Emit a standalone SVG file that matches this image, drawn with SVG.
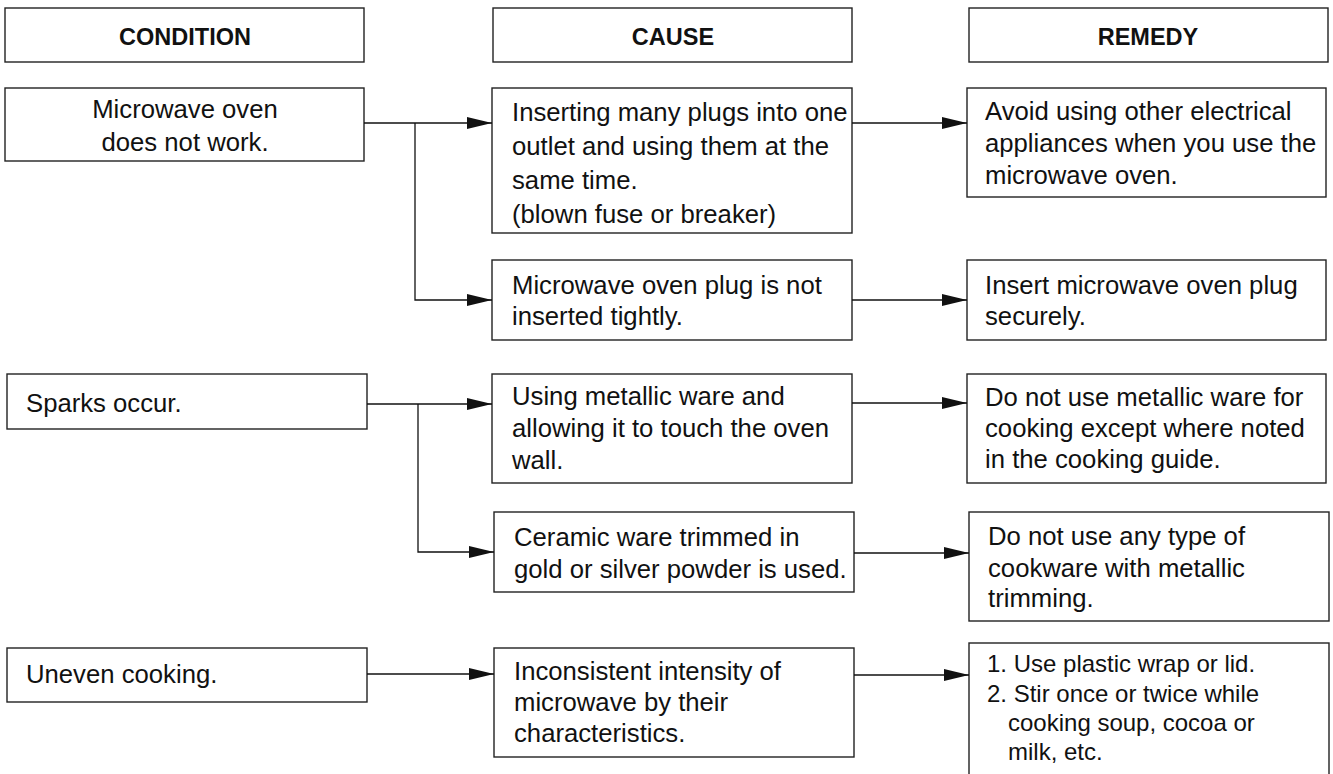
<svg xmlns="http://www.w3.org/2000/svg" width="1333" height="774" viewBox="0 0 1333 774">
<style>
.b{fill:#fff;stroke:#222;stroke-width:1.4}
text{font-family:"Liberation Sans",Arial,sans-serif;font-size:25.7px;fill:#111}
.h{font-weight:bold;font-size:23.5px;text-anchor:middle}
.c{text-anchor:middle}
.s{font-size:24px}
#connectors path{fill:none;stroke:#111;stroke-width:1.3}
</style>
<defs>
<marker id="ah" markerUnits="userSpaceOnUse" markerWidth="26" markerHeight="14" refX="25" refY="6" orient="auto">
<path d="M0,0 L25,6 L0,12 Z" fill="#111"/>
</marker>
</defs>
<rect width="1333" height="774" fill="#fff"/>
<g id="h-condition"><rect class="b" x="5" y="8" width="359" height="54"/><text class="h" x="185" y="45">CONDITION</text></g>
<g id="h-cause"><rect class="b" x="493" y="8" width="359" height="54"/><text class="h" x="673" y="45">CAUSE</text></g>
<g id="h-remedy"><rect class="b" x="969" y="8" width="359" height="54"/><text class="h" x="1148" y="45">REMEDY</text></g>

<g id="cond1"><rect class="b" x="5" y="88" width="359" height="73"/><text class="c" x="185" y="118">Microwave oven</text><text class="c" x="185" y="151">does not work.</text></g>
<g id="cond2"><rect class="b" x="7" y="374" width="360" height="55"/><text x="26" y="412">Sparks occur.</text></g>
<g id="cond3"><rect class="b" x="7" y="648" width="360" height="54"/><text x="26" y="683">Uneven cooking.</text></g>

<g id="cause1"><rect class="b" x="492" y="88" width="360" height="145"/>
<text x="512" y="121">Inserting many plugs into one</text>
<text x="512" y="155">outlet and using them at the</text>
<text x="512" y="189">same time.</text>
<text x="512" y="223">(blown fuse or breaker)</text></g>
<g id="cause2"><rect class="b" x="492" y="260" width="360" height="80"/>
<text x="512" y="294">Microwave oven plug is not</text>
<text x="512" y="325">inserted tightly.</text></g>
<g id="cause3"><rect class="b" x="492" y="374" width="360" height="109"/>
<text x="512" y="405">Using metallic ware and</text>
<text x="512" y="437">allowing it to touch the oven</text>
<text x="512" y="469">wall.</text></g>
<g id="cause4"><rect class="b" x="494" y="512" width="360" height="80"/>
<text x="514" y="546">Ceramic ware trimmed in</text>
<text x="514" y="578">gold or silver powder is used.</text></g>
<g id="cause5"><rect class="b" x="494" y="648" width="360" height="109"/>
<text x="514" y="680">Inconsistent intensity of</text>
<text x="514" y="711">microwave by their</text>
<text x="514" y="742">characteristics.</text></g>

<g id="remedy1"><rect class="b" x="967" y="88" width="359" height="109"/>
<text x="985" y="120">Avoid using other electrical</text>
<text x="985" y="152">appliances when you use the</text>
<text x="985" y="184">microwave oven.</text></g>
<g id="remedy2"><rect class="b" x="967" y="260" width="359" height="80"/>
<text x="985" y="294">Insert microwave oven plug</text>
<text x="985" y="325">securely.</text></g>
<g id="remedy3"><rect class="b" x="967" y="374" width="359" height="109"/>
<text x="985" y="406">Do not use metallic ware for</text>
<text x="985" y="437">cooking except where noted</text>
<text x="985" y="468">in the cooking guide.</text></g>
<g id="remedy4"><rect class="b" x="969" y="512" width="360" height="109"/>
<text x="988" y="545">Do not use any type of</text>
<text x="988" y="577">cookware with metallic</text>
<text x="988" y="607">trimming.</text></g>
<g id="remedy5"><rect class="b" x="969" y="643" width="360" height="140"/>
<text class="s" x="987" y="672">1. Use plastic wrap or lid.</text>
<text class="s" x="987" y="702">2. Stir once or twice while</text>
<text class="s" x="1008" y="731">cooking soup, cocoa or</text>
<text class="s" x="1008" y="760">milk, etc.</text></g>

<g id="connectors">
<path d="M364,123 H492" marker-end="url(#ah)"/>
<path d="M415,123 V300 H492" marker-end="url(#ah)"/>
<path d="M852,123 H967" marker-end="url(#ah)"/>
<path d="M852,300 H967" marker-end="url(#ah)"/>
<path d="M367,404 H492" marker-end="url(#ah)"/>
<path d="M418,404 V552 H494" marker-end="url(#ah)"/>
<path d="M852,403 H967" marker-end="url(#ah)"/>
<path d="M854,553 H969" marker-end="url(#ah)"/>
<path d="M367,674 H494" marker-end="url(#ah)"/>
<path d="M854,675 H969" marker-end="url(#ah)"/>
</g>
</svg>
